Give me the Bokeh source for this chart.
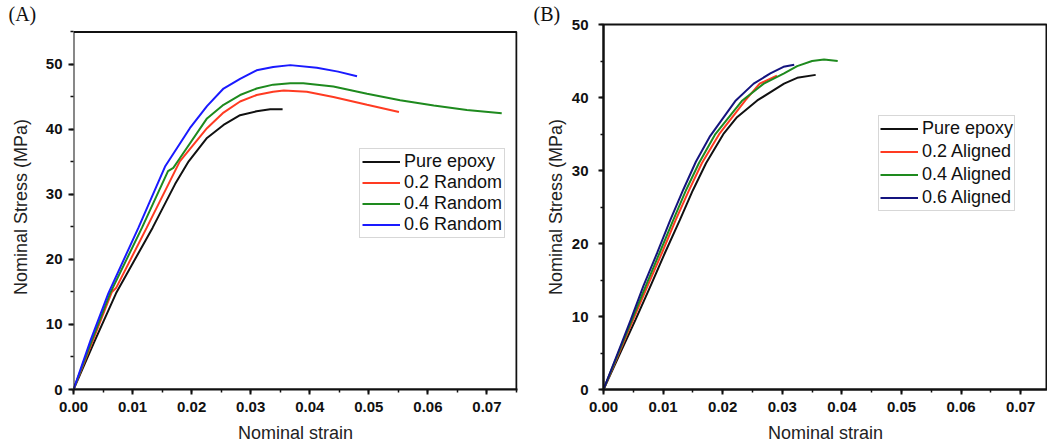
from bokeh.plotting import figure
from bokeh.layouts import row
from bokeh.models import (SingleIntervalTicker, NumeralTickFormatter, Range1d, BoxAnnotation)
from bokeh.embed import file_html
from bokeh.resources import INLINE

# ---------------- data: panel A (random) ----------------
strain_A_epoxy = [0, 0.0035, 0.0072, 0.0134, 0.0172, 0.0195, 0.0226, 0.0254, 0.0282, 0.0310, 0.0333, 0.0354]
stress_A_epoxy = [0, 7.3, 14.8, 24.9, 31.6, 35.1, 38.7, 40.7, 42.2, 42.8, 43.1, 43.1]

strain_A_r02 = [0, 0.0033, 0.0065, 0.0072, 0.0124, 0.0180, 0.0226, 0.0254, 0.0282, 0.0310, 0.0338, 0.0356, 0.0395, 0.0440, 0.0497, 0.0551]
stress_A_r02 = [0, 7.6, 15.0, 15.6, 24.9, 35.1, 40.2, 42.6, 44.3, 45.3, 45.8, 46.0, 45.8, 45.0, 43.8, 42.7]

strain_A_r04 = [0, 0.0031, 0.0062, 0.0116, 0.0160, 0.0169, 0.0178, 0.0226, 0.0254, 0.0282, 0.0310, 0.0338, 0.0367, 0.0389, 0.0440, 0.0497, 0.0553, 0.0610, 0.0666, 0.0725]
stress_A_r04 = [0, 7.5, 14.8, 24.9, 33.6, 34.1, 35.3, 41.7, 43.8, 45.3, 46.3, 46.9, 47.1, 47.1, 46.6, 45.5, 44.5, 43.7, 43.0, 42.5]

strain_A_r06 = [0, 0.0029, 0.0059, 0.0110, 0.0155, 0.0197, 0.0226, 0.0254, 0.0282, 0.0310, 0.0338, 0.0367, 0.0412, 0.0448, 0.0480]
stress_A_r06 = [0, 7.6, 14.8, 24.9, 34.3, 40.2, 43.6, 46.3, 47.8, 49.1, 49.6, 49.9, 49.5, 48.9, 48.2]

# ---------------- data: panel B (aligned) ----------------
strain_B_epoxy = [0, 0.0028, 0.0054, 0.0079, 0.0103, 0.0128, 0.0150, 0.0172, 0.0202, 0.0224, 0.0258, 0.0303, 0.0325, 0.0356]
stress_B_epoxy = [0, 5.0, 9.6, 14.2, 18.7, 23.2, 27.3, 31.0, 35.1, 37.3, 39.6, 41.9, 42.7, 43.1]

strain_B_a02 = [0, 0.0026, 0.0050, 0.0074, 0.0098, 0.0121, 0.0143, 0.0165, 0.0195, 0.0238, 0.0262, 0.0291]
stress_B_a02 = [0, 5.0, 9.6, 14.2, 18.7, 23.2, 27.2, 31.0, 35.1, 39.6, 41.9, 43.0]

strain_B_a04 = [0, 0.0025, 0.0048, 0.0071, 0.0094, 0.0117, 0.0139, 0.0160, 0.0187, 0.0233, 0.0269, 0.0303, 0.0325, 0.0350, 0.0370, 0.0393]
stress_B_a04 = [0, 5.0, 9.6, 14.2, 18.7, 23.2, 27.4, 31.0, 34.9, 39.6, 41.9, 43.3, 44.3, 45.0, 45.2, 45.0]

strain_B_a06 = [0, 0.0024, 0.0046, 0.0067, 0.0090, 0.0112, 0.0134, 0.0155, 0.0178, 0.0222, 0.0252, 0.0280, 0.0302, 0.0320]
stress_B_a06 = [0, 5.0, 9.6, 14.2, 18.7, 23.2, 27.4, 31.2, 34.6, 39.6, 41.9, 43.3, 44.2, 44.5]

labels_A = ["Pure epoxy", "0.2 Random", "0.4 Random", "0.6 Random"]
labels_B = ["Pure epoxy", "0.2 Aligned", "0.4 Aligned", "0.6 Aligned"]
colors_A = ["#111111", "#ff3b22", "#1e8a1e", "#1a1aff"]
colors_B = ["#111111", "#ff3b22", "#1e8a1e", "#14147f"]

FONT = "Liberation Sans"
SERIF = "Liberation Serif"


def style(p, ylabel_standoff, ytick_standoff):
    p.xaxis.ticker = SingleIntervalTicker(interval=0.01, num_minor_ticks=2)
    p.yaxis.ticker = SingleIntervalTicker(interval=10, num_minor_ticks=2)
    p.xaxis.formatter = NumeralTickFormatter(format="0.00")
    for ax in (p.xaxis[0], p.yaxis[0]):
        ax.axis_line_width = 2
        ax.axis_line_color = "#111111"
        ax.major_tick_line_width = 2
        ax.minor_tick_line_width = 1.5
        ax.major_tick_line_color = "#111111"
        ax.minor_tick_line_color = "#111111"
        ax.major_tick_in = 0
        ax.major_tick_out = 5
        ax.minor_tick_in = 0
        ax.minor_tick_out = 3
        ax.major_label_text_font = FONT
        ax.major_label_text_font_style = "bold"
        ax.major_label_text_font_size = "15px"
        ax.major_label_text_color = "#111111"
        ax.axis_label_text_font = FONT
        ax.axis_label_text_font_style = "normal"
        ax.axis_label_text_font_size = "18px"
        ax.axis_label_text_color = "#222222"
    p.xaxis.axis_label = "Nominal strain"
    p.yaxis.axis_label = "Nominal Stress (MPa)"
    p.xaxis.major_label_standoff = 7
    p.xaxis.axis_label_standoff = 8
    p.yaxis.major_label_standoff = ytick_standoff
    p.yaxis.axis_label_standoff = ylabel_standoff
    p.xgrid.visible = False
    p.ygrid.visible = False
    p.background_fill_color = "white"
    p.border_fill_color = "white"


def style_title(p, text, offset):
    p.title.text = text
    p.title.align = "left"
    p.title.offset = offset
    p.title.standoff = 0
    p.title.text_font = SERIF
    p.title.text_font_size = "20px"
    p.title.text_font_style = "normal"
    p.title.text_color = "#111111"


def style_legend(p, loc, lh, pad):
    lg = p.legend[0]
    lg.location = loc
    lg.label_text_font = FONT
    lg.label_text_font_size = "18px"
    lg.label_text_color = "#111111"
    lg.glyph_width = 38
    lg.glyph_height = lh
    lg.label_height = lh
    lg.label_standoff = 4
    lg.spacing = 0
    lg.padding = pad
    lg.margin = 0
    lg.border_line_color = "#b0b0b0"
    lg.border_line_width = 1
    lg.background_fill_alpha = 1


# ---------------- panel A ----------------
# frames of the two panels are aligned by the row; panel A's box (0..0.075, 0..55)
# is drawn as an annotation so that its top sits lower than panel B's frame top
pA = figure(width=520, height=446, x_range=Range1d(0, 0.07517), y_range=Range1d(0, 56.15),
            output_backend="svg", toolbar_location=None,
            min_border_left=73, min_border_right=3, min_border_top=23, min_border_bottom=57)
style(pA, ylabel_standoff=12, ytick_standoff=6)
pA.outline_line_color = None
pA.yaxis.axis_line_color = None
style_title(pA, "(A)", -65)
pA.add_layout(BoxAnnotation(left=0, right=0.075, bottom=0, top=55,
                            fill_alpha=0, line_color="#111111", line_width=2, line_alpha=1))

for xs, ys, c, lab in zip([strain_A_epoxy, strain_A_r02, strain_A_r04, strain_A_r06],
                          [stress_A_epoxy, stress_A_r02, stress_A_r04, stress_A_r06],
                          colors_A, labels_A):
    pA.line(xs, ys, color=c, line_width=2, legend_label=lab)
style_legend(pA, (286, 151), 21, 2)

# ---------------- panel B ----------------
pB = figure(width=527, height=446, x_range=Range1d(0, 0.0745), y_range=Range1d(0, 50),
            output_backend="svg", toolbar_location=None,
            min_border_left=83, min_border_right=0, min_border_top=23, min_border_bottom=57)
style(pB, ylabel_standoff=3, ytick_standoff=10)
pB.outline_line_color = "#111111"
pB.outline_line_width = 2
pB.outline_line_alpha = 1
style_title(pB, "(B)", -70)

for xs, ys, c, lab in zip([strain_B_epoxy, strain_B_a02, strain_B_a04, strain_B_a06],
                          [stress_B_epoxy, stress_B_a02, stress_B_a04, stress_B_a06],
                          colors_B, labels_B):
    pB.line(xs, ys, color=c, line_width=2, legend_label=lab)
style_legend(pB, (275, 178), 23, 1)

layout = row(pA, pB)
open("out.html", "w").write(file_html(layout, INLINE))
